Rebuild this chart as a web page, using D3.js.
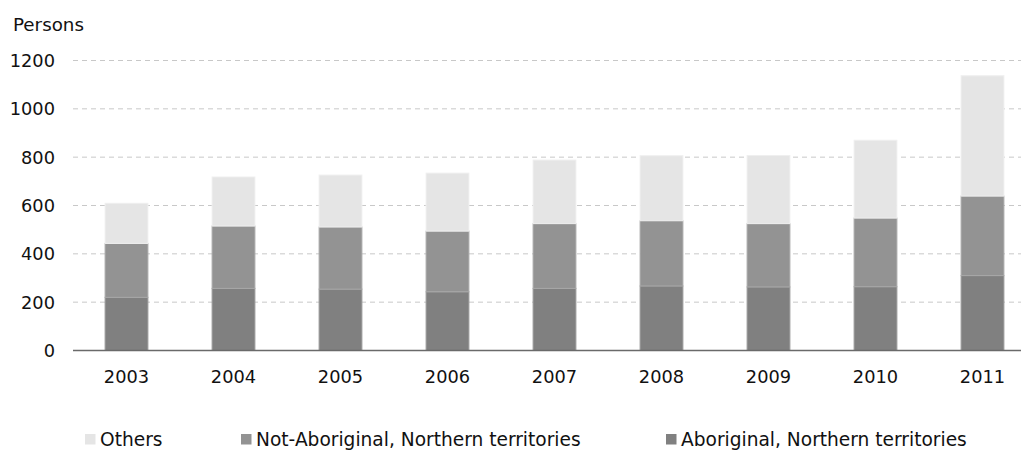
<!DOCTYPE html>
<html>
<head>
<meta charset="utf-8">
<script src="https://cdn.jsdelivr.net/npm/d3@7"></script>
<style>
  body { margin: 0; background: #fff; }
  svg { display: block; font-family: "DejaVu Sans", Verdana, sans-serif; }
</style>
</head>
<body>
<svg id="chart" width="1021" height="450"></svg>
<script>
const years = ["2003","2004","2005","2006","2007","2008","2009","2010","2011"];
const aboriginal = [220, 257, 254, 243, 257, 267, 263, 264, 310];
const notAboriginal = [223, 258, 257, 251, 268, 270, 262, 284, 329];
const others = [166, 203, 215, 240, 263, 269, 282, 322, 498];
const yTicks = [0, 200, 400, 600, 800, 1000, 1200];
const seriesNames = ["Aboriginal, Northern territories", "Not-Aboriginal, Northern territories", "Others"];
const seriesKeys = ["ab", "notab", "others"];
const colors = { ab: "#808080", notab: "#939393", others: "#e5e5e5" };
const strokes = { ab: "#9a9a9a", notab: "#a8a8a8", others: "#efefef" };

const rows = years.map((y, i) => ({ year: y, ab: aboriginal[i], notab: notAboriginal[i], others: others[i] }));

const svg = d3.select("#chart");
const fs = "17.8px";

const x = d3.scaleBand().domain(years).range([73, 1036]).paddingInner(0.6).paddingOuter(0.3);
const y = d3.scaleLinear().domain([0, 1200]).range([350.5, 60.5]);

// gridlines
svg.append("g").selectAll("line").data(yTicks.filter(d => d > 0)).join("line")
  .attr("x1", 73).attr("x2", 1021)
  .attr("y1", d => y(d)).attr("y2", d => y(d))
  .attr("stroke", "#c8c8c8").attr("stroke-width", 1).attr("stroke-dasharray", "5,4");

// y labels
svg.append("g").selectAll("text").data(yTicks).join("text")
  .attr("x", 55).attr("y", d => y(d)).attr("dy", "0.36em")
  .attr("text-anchor", "end").attr("font-size", fs).attr("fill", "#111")
  .text(d => d);

svg.append("text").attr("x", 13).attr("y", 31).attr("font-size", "18.3px").attr("fill", "#111").text("Persons");

// stacked bars
const stack = d3.stack().keys(seriesKeys)(rows);
svg.append("g").selectAll("g").data(stack).join("g")
  .attr("fill", d => colors[d.key]).attr("stroke", d => strokes[d.key]).attr("stroke-width", 1)
  .selectAll("rect").data(d => d).join("rect")
  .attr("x", d => x(d.data.year))
  .attr("width", x.bandwidth())
  .attr("y", d => y(d[1]))
  .attr("height", d => y(d[0]) - y(d[1]));

// baseline axis
svg.append("line").attr("x1", 73).attr("x2", 1021).attr("y1", y(0)).attr("y2", y(0))
  .attr("stroke", "#6a6a6a").attr("stroke-width", 1.5);

// x labels
svg.append("g").selectAll("text").data(years).join("text")
  .attr("x", d => x(d) + x.bandwidth() / 2).attr("y", 383)
  .attr("text-anchor", "middle").attr("font-size", fs).attr("fill", "#111")
  .text(d => d);

// legend
const legendItems = [
  { key: "others", name: seriesNames[2], x: 85 },
  { key: "notab", name: seriesNames[1], x: 241 },
  { key: "ab", name: seriesNames[0], x: 666 }
];
const lg = svg.append("g").selectAll("g").data(legendItems).join("g")
  .attr("transform", d => `translate(${d.x},0)`);
lg.append("rect").attr("x", 0).attr("y", 434).attr("width", 10.5).attr("height", 10.5)
  .attr("fill", d => colors[d.key]);
lg.append("text").attr("x", 15).attr("y", 446).attr("font-size", "18.6px").attr("fill", "#111")
  .text(d => d.name);
</script>
</body>
</html>
